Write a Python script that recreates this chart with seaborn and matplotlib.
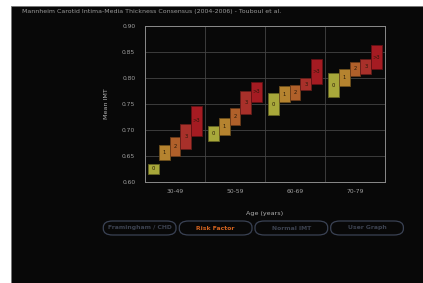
import matplotlib
matplotlib.use("Agg")
import matplotlib.pyplot as plt
from matplotlib.patches import Rectangle, FancyBboxPatch
import numpy as np
import pandas as pd
import seaborn as sns

# ---------------------------------------------------------------
# Data: mean IMT range (low / high) per age group and risk-factor count
# ---------------------------------------------------------------
age_groups = ["30-49", "50-59", "60-69", "70-79"]
risk_levels = ["0", "1", "2", "3", ">3"]

imt_low = [
    [0.615, 0.641, 0.650, 0.664, 0.689],
    [0.679, 0.691, 0.710, 0.731, 0.754],
    [0.729, 0.754, 0.758, 0.777, 0.789],
    [0.764, 0.784, 0.805, 0.808, 0.817],
]
imt_high = [
    [0.635, 0.671, 0.687, 0.711, 0.747],
    [0.707, 0.723, 0.743, 0.775, 0.793],
    [0.771, 0.784, 0.787, 0.800, 0.837],
    [0.809, 0.817, 0.831, 0.837, 0.863],
]
risk_colors = ["#a8a83a", "#b5832f", "#b0602a", "#a8302a", "#a51b22"]
y_ticks = [0.60, 0.65, 0.70, 0.75, 0.80, 0.85, 0.90]
buttons = ["Framingham / CHD", "Risk Factor", "Normal IMT", "User Graph"]

rows = []
for i, age in enumerate(age_groups):
    for j, risk in enumerate(risk_levels):
        rows.append({"age": age, "risk": risk, "low": imt_low[i][j],
                     "span": imt_high[i][j] - imt_low[i][j]})
df = pd.DataFrame(rows)

# ---------------------------------------------------------------
# Style
# ---------------------------------------------------------------
sns.set_theme(style="dark")
plt.rcParams["font.family"] = ["DejaVu Sans"]
TXT = "#a0a0a0"

fig = plt.figure(figsize=(4.23, 2.83), dpi=100, facecolor="white")
# black panel
fig.patches.append(Rectangle((11 / 423, 0), 1 - 11 / 423, 1 - 6 / 283,
                             transform=fig.transFigure, facecolor="#080808",
                             edgecolor="#777777", linewidth=0.6, zorder=-10))

ax = fig.add_axes([145 / 423, 1 - 181.7 / 283, 240 / 423, (181.7 - 26.3) / 283])
ax.set_facecolor("#080808")

sns.barplot(data=df, x="age", y="span", hue="risk", order=age_groups,
            hue_order=risk_levels, palette=risk_colors, width=0.9, gap=0,
            saturation=1, errorbar=None, legend=False, ax=ax, linewidth=0.6,
            zorder=3)

# lift each bar to its lower bound, label it
for h, cont in enumerate(ax.containers):
    for rect in cont:
        cat = int(round(rect.get_x() + rect.get_width() / 2))
        rect.set_y(imt_low[cat][h])
        fc = np.array(matplotlib.colors.to_rgb(risk_colors[h]))
        rect.set_edgecolor(fc * 0.6)
        ax.text(rect.get_x() + rect.get_width() / 2,
                rect.get_y() + rect.get_height() / 2, risk_levels[h],
                ha="center", va="center", fontsize=3.8, color="#2a1a08", zorder=4)

ax.set_xlim(-0.5, 3.5)
ax.set_ylim(0.60, 0.90)
ax.set_yticks(y_ticks)
ax.set_yticklabels([f"{v:.2f}" for v in y_ticks])
ax.set_xticks(range(len(age_groups)))
ax.set_xticklabels(age_groups)
ax.set_xticks(np.arange(-0.5, 3.6, 1.0), minor=True)
ax.tick_params(axis="x", which="major", length=0, pad=5, labelsize=4.3, labelcolor=TXT)
ax.tick_params(axis="x", which="minor", length=9.5, width=0.7, color="#777777")
ax.tick_params(axis="y", length=0, pad=7, labelsize=4.3, labelcolor=TXT)

ax.grid(False)
ax.grid(True, axis="y", color="#444444", linewidth=0.6, zorder=0)
ax.grid(True, axis="x", which="minor", color="#444444", linewidth=0.6, zorder=0)
for s in ax.spines.values():
    s.set_visible(True)
    s.set_color("#8a8a8a")
    s.set_linewidth(0.7)

ax.set_xlabel("Age (years)", fontsize=4.6, color="#b0b0b0", labelpad=8)
ax.set_ylabel("Mean IMT", fontsize=4.6, color="#b0b0b0", labelpad=9)

fig.text(22 / 423, 1 - 12 / 283,
         "Mannheim Carotid Intima-Media Thickness Consensus (2004-2006) - Touboul et al.",
         fontsize=4.5, color="#9a9a9a", va="center", ha="left")

# button row
btn_x = [103.3, 179.3, 255.0, 330.7]
for k, label in enumerate(buttons):
    x0 = btn_x[k] / 423
    w = 72.7 / 423
    y0 = 1 - 235 / 283
    hgt = 14 / 283
    fig.patches.append(FancyBboxPatch((x0, y0), w, hgt, transform=fig.transFigure,
                                      boxstyle="round,pad=0,rounding_size=0.022",
                                      facecolor="none", edgecolor="#3a4254",
                                      linewidth=0.9))
    col = "#d2621e" if label == "Risk Factor" else "#3c4250"
    fig.text(x0 + w / 2, y0 + hgt / 2, label, fontsize=4.4, color=col,
             ha="center", va="center", fontweight="bold")

plt.savefig("out.png", dpi=100)
plt.close()
